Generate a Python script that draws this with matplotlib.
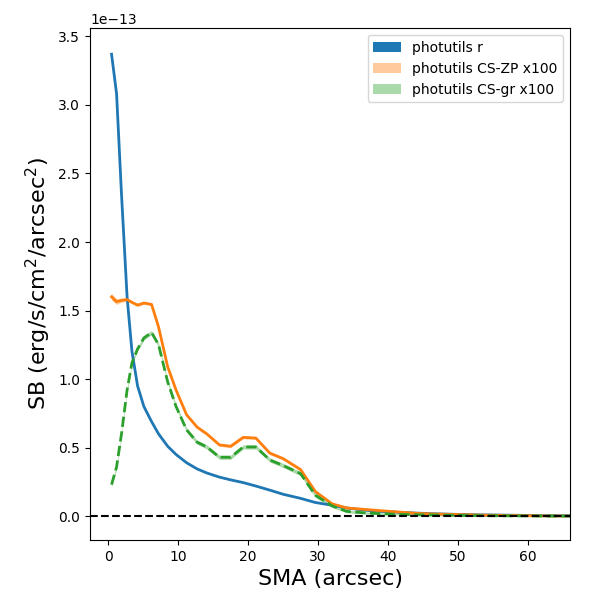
import numpy as np
from matplotlib import pyplot as plt

# isophote semi-major axis (arcsec)
sma = [0.48, 1.2, 1.9, 2.7, 3.4, 4.2, 5.1, 6.2, 7.2, 8.5, 9.7, 11.2, 12.7, 14.1,
       15.9, 17.5, 19.3, 21.1, 23.1, 25.0, 27.5, 29.6, 32.0, 34.1, 36.5, 39.0,
       41.6, 44.3, 47.1, 50.0, 53.0, 56.1, 59.3, 62.8, 66.5]

# surface brightness, units of 1e-13
sb_r = [3.37, 3.08, 2.35, 1.60, 1.20, 0.95, 0.80, 0.69, 0.60, 0.51, 0.45, 0.39,
        0.345, 0.315, 0.285, 0.265, 0.245, 0.22, 0.19, 0.16, 0.13, 0.10, 0.08,
        0.06, 0.045, 0.035, 0.028, 0.022, 0.017, 0.013, 0.010, 0.008, 0.006,
        0.004, 0.003]
sb_zp = [1.60, 1.565, 1.575, 1.58, 1.56, 1.54, 1.555, 1.545, 1.38, 1.09, 0.92,
         0.74, 0.65, 0.60, 0.52, 0.51, 0.575, 0.57, 0.46, 0.42, 0.34, 0.18, 0.09,
         0.06, 0.05, 0.04, 0.03, 0.02, 0.015, 0.012, 0.008, 0.006, 0.004, 0.002,
         0.001]
sb_gr = [0.23, 0.36, 0.60, 0.92, 1.12, 1.22, 1.30, 1.34, 1.25, 0.98, 0.80, 0.63,
         0.54, 0.505, 0.43, 0.43, 0.505, 0.505, 0.41, 0.37, 0.31, 0.153, 0.075,
         0.035, 0.025, 0.018, 0.013, 0.01, 0.008, 0.006, 0.004, 0.003, 0.002,
         0.001, 0.001]

# 1-sigma errors, same units
err_r = [0.02, 0.02, 0.015, 0.01, 0.008, 0.006, 0.005, 0.004, 0.004, 0.003, 0.003,
         0.003, 0.003, 0.003, 0.003, 0.003, 0.003, 0.003, 0.003, 0.003, 0.003,
         0.003, 0.003, 0.003, 0.003, 0.003, 0.003, 0.003, 0.003, 0.003, 0.003,
         0.003, 0.003, 0.003, 0.003]
err_zp = [0.025, 0.02, 0.015, 0.012, 0.01, 0.01, 0.01, 0.01, 0.01, 0.01,
          0.01, 0.01, 0.01, 0.01, 0.01, 0.01, 0.01, 0.01, 0.01, 0.01,
          0.01, 0.01, 0.008, 0.008, 0.007, 0.007, 0.006, 0.006, 0.005, 0.005,
          0.005, 0.005, 0.005, 0.005, 0.005]
err_gr = [0.015, 0.015, 0.015, 0.015, 0.015, 0.015, 0.015, 0.015, 0.015, 0.015,
          0.015, 0.015, 0.015, 0.015, 0.015, 0.015, 0.015, 0.015, 0.015, 0.015,
          0.015, 0.015, 0.012, 0.01, 0.008, 0.007, 0.006, 0.006, 0.005, 0.005,
          0.005, 0.005, 0.005, 0.005, 0.005]


def main():
    x = np.array(sma)
    scale = 1e-13
    series = [
        (sb_r, err_r, 'C0', '-', 1.0, 'photutils r'),
        (sb_zp, err_zp, 'C1', '-', 0.4, 'photutils CS-ZP x100'),
        (sb_gr, err_gr, 'C2', '--', 0.4, 'photutils CS-gr x100'),
    ]

    fig, ax = plt.subplots(1, 1, figsize=(6, 6), dpi=100)
    for y, e, c, ls, a, lab in series:
        y = np.array(y) * scale
        e = np.array(e) * scale
        ax.fill_between(x, y - e, y + e, color=c, alpha=a, lw=0, label=lab)
        ax.plot(x, y, color=c, ls=ls, lw=2)

    ax.axhline(0, color='k', ls='--', lw=1.5)
    ax.set_xlabel("SMA (arcsec)", fontsize=16)
    ax.set_ylabel("SB (erg/s/cm$^2$/arcsec$^2$)", fontsize=16)
    ax.legend(loc='upper right')
    ax.set_xlim(-2.6, 66.0)

    plt.subplots_adjust(left=0.15, right=0.95, top=0.953, bottom=0.1)
    plt.savefig("out.png", dpi=100)
    plt.close()


if __name__ == "__main__":
    main()
